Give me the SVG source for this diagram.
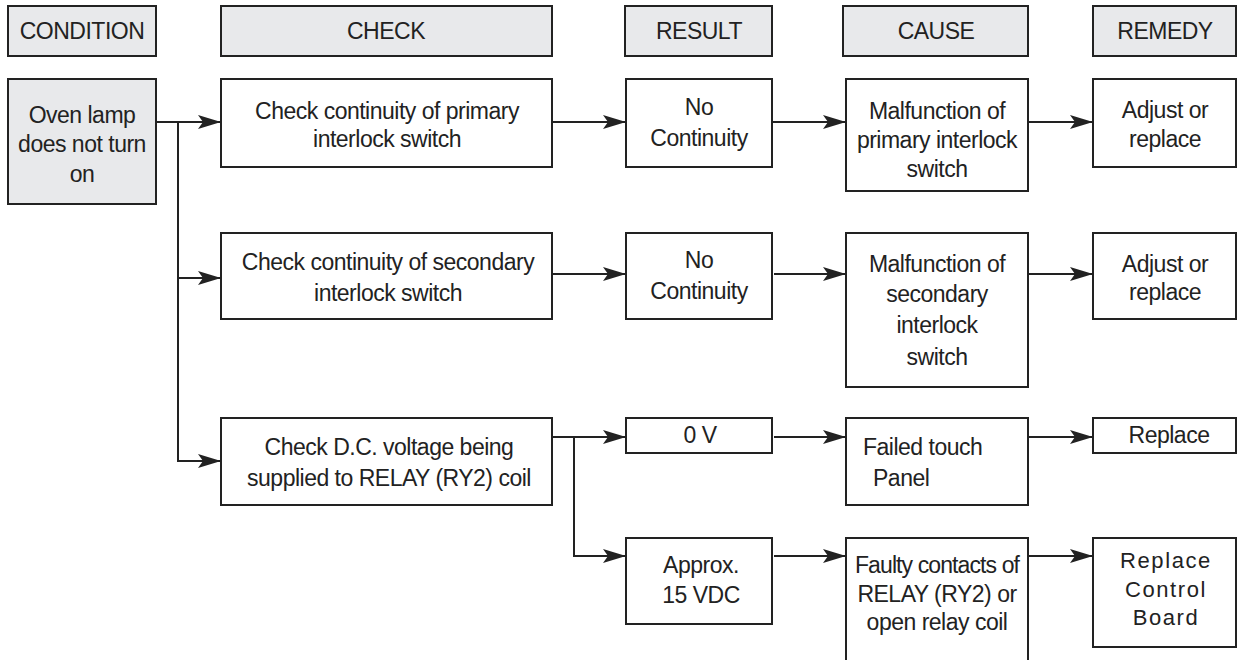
<svg xmlns="http://www.w3.org/2000/svg" width="1237" height="660" viewBox="0 0 1237 660">
<style>
.box{fill:#fff;stroke:#222;stroke-width:2}
.hdr{fill:#e8e9eb;stroke:#222;stroke-width:2}
text{font-family:"Liberation Sans",Arial,sans-serif;font-size:23px;letter-spacing:-0.5px;fill:#222;text-anchor:middle}
.wide{font-size:22px;letter-spacing:1.6px}
.tight{letter-spacing:-0.9px}
.ln{fill:none;stroke:#222;stroke-width:2}
</style>
<defs>
<marker id="ah" markerWidth="23" markerHeight="14" refX="23" refY="7" orient="auto" markerUnits="userSpaceOnUse">
<path d="M0,0 L23,7 L0,14 L5,7 Z" fill="#222"/>
</marker>
</defs>
<rect width="1237" height="660" fill="#fff"/>

<g id="headers">
<g id="h-condition"><rect class="hdr" x="8" y="6" width="148" height="50"/><text x="82" y="39">CONDITION</text></g>
<g id="h-check"><rect class="hdr" x="221" y="6" width="331" height="50"/><text x="386" y="39">CHECK</text></g>
<g id="h-result"><rect class="hdr" x="625" y="6" width="147" height="50"/><text x="699" y="39">RESULT</text></g>
<g id="h-cause"><rect class="hdr" x="843" y="6" width="185" height="50"/><text x="936" y="39">CAUSE</text></g>
<g id="h-remedy"><rect class="hdr" x="1093" y="6" width="143" height="50"/><text x="1165" y="39">REMEDY</text></g>
</g>

<g id="condition">
<rect class="hdr" x="8" y="79" width="148" height="125"/>
<text x="82" y="123">Oven lamp</text>
<text x="82" y="152">does not turn</text>
<text x="82" y="182">on</text>
</g>

<g id="check1"><rect class="box" x="221" y="79" width="331" height="88"/>
<text x="387" y="119">Check continuity of primary</text><text x="387" y="147">interlock switch</text></g>
<g id="result1"><rect class="box" x="626" y="79" width="146" height="88"/>
<text x="699" y="115">No</text><text x="699" y="146">Continuity</text></g>
<g id="cause1"><rect class="box" x="846" y="79" width="182" height="112"/>
<text x="937" y="119">Malfunction of</text><text x="937" y="148">primary interlock</text><text x="937" y="177">switch</text></g>
<g id="remedy1"><rect class="box" x="1093" y="79" width="143" height="88"/>
<text x="1165" y="118">Adjust or</text><text x="1165" y="147">replace</text></g>

<g id="check2"><rect class="box" x="221" y="233" width="331" height="86"/>
<text x="388" y="270">Check continuity of secondary</text><text x="388" y="301">interlock switch</text></g>
<g id="result2"><rect class="box" x="626" y="233" width="146" height="86"/>
<text x="699" y="268">No</text><text x="699" y="299">Continuity</text></g>
<g id="cause2"><rect class="box" x="846" y="233" width="182" height="154"/>
<text x="937" y="272">Malfunction of</text><text x="937" y="302">secondary</text><text x="937" y="333">interlock</text><text x="937" y="365">switch</text></g>
<g id="remedy2"><rect class="box" x="1093" y="233" width="143" height="86"/>
<text x="1165" y="272">Adjust or</text><text x="1165" y="300">replace</text></g>

<g id="check3"><rect class="box" x="221" y="418" width="331" height="87"/>
<text x="389" y="455">Check D.C. voltage being</text><text x="389" y="486">supplied to RELAY (RY2) coil</text></g>
<g id="result3a"><rect class="box" x="626" y="418" width="146" height="35"/>
<text x="700" y="443">0 V</text></g>
<g id="cause3a"><rect class="box" x="846" y="418" width="182" height="87"/>
<text x="863" y="455" style="text-anchor:start">Failed touch</text><text x="873" y="486" style="text-anchor:start">Panel</text></g>
<g id="remedy3a"><rect class="box" x="1093" y="418" width="143" height="35"/>
<text x="1169" y="443">Replace</text></g>
<g id="result3b"><rect class="box" x="626" y="538" width="146" height="86"/>
<text x="701" y="573">Approx.</text><text x="701" y="603">15 VDC</text></g>
<g id="cause3b"><rect class="box" x="846" y="538" width="182" height="132"/>
<text class="tight" x="937" y="573">Faulty contacts of</text><text x="937" y="602">RELAY (RY2) or</text><text x="937" y="630">open relay coil</text></g>
<g id="remedy3b"><rect class="box" x="1093" y="538" width="143" height="109"/>
<text class="wide" x="1166" y="568">Replace</text><text class="wide" x="1166" y="597">Control</text><text class="wide" x="1166" y="625">Board</text></g>

<g id="connectors">
<path class="ln" d="M156,122 H221" marker-end="url(#ah)"/>
<path class="ln" d="M178,122 V461 H221" marker-end="url(#ah)"/>
<path class="ln" d="M178,278 H221" marker-end="url(#ah)"/>
<path class="ln" d="M552,122 H626" marker-end="url(#ah)"/>
<path class="ln" d="M772,122 H846" marker-end="url(#ah)"/>
<path class="ln" d="M1028,122 H1093" marker-end="url(#ah)"/>
<path class="ln" d="M552,274 H626" marker-end="url(#ah)"/>
<path class="ln" d="M774,274 H846" marker-end="url(#ah)"/>
<path class="ln" d="M1028,274 H1093" marker-end="url(#ah)"/>
<path class="ln" d="M552,437 H626" marker-end="url(#ah)"/>
<path class="ln" d="M574,437 V556 H626" marker-end="url(#ah)"/>
<path class="ln" d="M774,437 H846" marker-end="url(#ah)"/>
<path class="ln" d="M1028,437 H1093" marker-end="url(#ah)"/>
<path class="ln" d="M774,556 H846" marker-end="url(#ah)"/>
<path class="ln" d="M1028,556 H1093" marker-end="url(#ah)"/>
</g>
</svg>
